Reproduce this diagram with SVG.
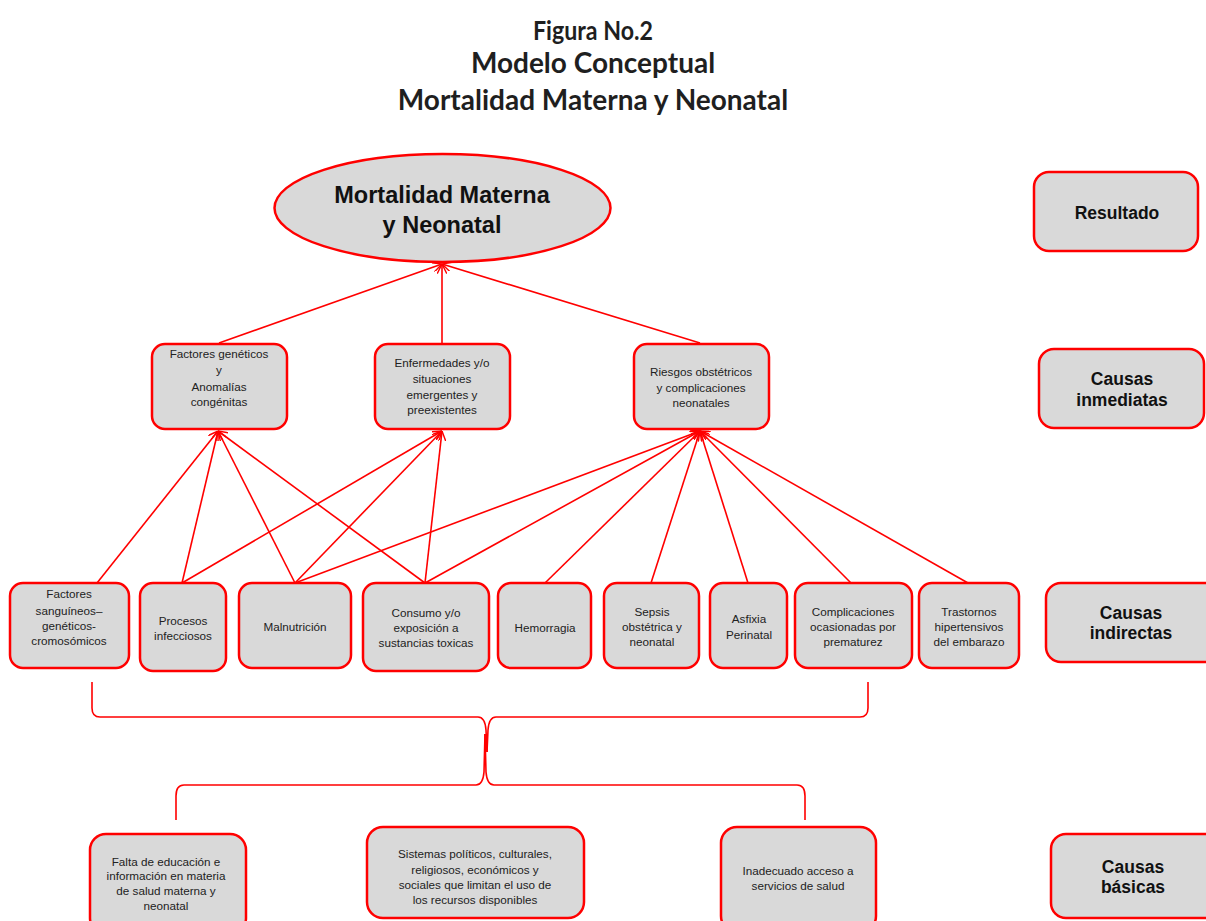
<svg xmlns="http://www.w3.org/2000/svg" width="1206" height="921" viewBox="0 0 1206 921">
<style>
.title{font-family:Lato,"Open Sans",sans-serif;font-weight:bold;font-size:28px;fill:#1f1f1f;text-anchor:middle}
.box{fill:#d9d9d9;stroke:#ff0000;stroke-width:2.5}
.t{font-family:"Liberation Sans",Arial,sans-serif;font-size:11.7px;fill:#222;text-anchor:middle}
.lab{font-family:"Liberation Sans",Arial,sans-serif;font-size:17.5px;font-weight:bold;fill:#111;text-anchor:middle}
.big{font-family:"Liberation Sans",Arial,sans-serif;font-size:23.5px;font-weight:bold;fill:#111;text-anchor:middle}
.c{stroke:#ff0000;stroke-width:1.6;fill:none}
</style>
<defs>
<marker id="ah" viewBox="0 0 10 10" refX="10" refY="5" markerWidth="6" markerHeight="6" orient="auto" markerUnits="strokeWidth">
<path d="M0,0 L10,5 L0,10" fill="none" stroke="#ff0000" stroke-width="1.5"/>
</marker>
</defs>
<rect width="1206" height="921" fill="#ffffff"/>
<g id="title">
<text class="title" x="593" y="40" style="font-size:26.5px" textLength="120" lengthAdjust="spacingAndGlyphs">Figura No.2</text>
<text class="title" x="593" y="73">Modelo Conceptual</text>
<text class="title" x="593" y="110">Mortalidad Materna y Neonatal</text>
</g>
<g id="connectors">
<line class="c" x1="219" y1="343" x2="442" y2="264" marker-end="url(#ah)"/>
<line class="c" x1="442" y1="343" x2="442" y2="264" marker-end="url(#ah)"/>
<line class="c" x1="700" y1="343" x2="442" y2="264" marker-end="url(#ah)"/>
<line class="c" x1="97" y1="583" x2="218" y2="431" marker-end="url(#ah)"/>
<line class="c" x1="182" y1="583" x2="218" y2="431" marker-end="url(#ah)"/>
<line class="c" x1="295" y1="583" x2="218" y2="431" marker-end="url(#ah)"/>
<line class="c" x1="425" y1="583" x2="218" y2="431" marker-end="url(#ah)"/>
<line class="c" x1="182" y1="583" x2="442" y2="431" marker-end="url(#ah)"/>
<line class="c" x1="295" y1="583" x2="442" y2="431" marker-end="url(#ah)"/>
<line class="c" x1="425" y1="583" x2="442" y2="431" marker-end="url(#ah)"/>
<line class="c" x1="295" y1="583" x2="700" y2="431" marker-end="url(#ah)"/>
<line class="c" x1="425" y1="583" x2="700" y2="431" marker-end="url(#ah)"/>
<line class="c" x1="545" y1="583" x2="700" y2="431" marker-end="url(#ah)"/>
<line class="c" x1="651" y1="583" x2="700" y2="431" marker-end="url(#ah)"/>
<line class="c" x1="748" y1="583" x2="700" y2="431" marker-end="url(#ah)"/>
<line class="c" x1="851" y1="583" x2="700" y2="431" marker-end="url(#ah)"/>
<line class="c" x1="968" y1="583" x2="700" y2="431" marker-end="url(#ah)"/>
<path class="c" d="M92,682 L92,708 Q92,717 100,717 L478,717 Q485,717 486,730 L487,752"/>
<path class="c" d="M868,682 L868,708 Q868,717 860,717 L496,717 Q489,717 488,730 L487,752"/>
<path class="c" d="M485,734 L484,772 Q483,785 476,785 L184,785 Q176,785 176,796 L176,820"/>
<path class="c" d="M485,734 L486,772 Q487,785 494,785 L797,785 Q805,785 805,796 L805,820"/>
</g>
<g id="resultado-principal">
<ellipse cx="442.5" cy="208" rx="168" ry="54" fill="#d9d9d9" stroke="#ff0000" stroke-width="2.5"/>
<text class="big" x="442" y="203">Mortalidad Materna</text>
<text class="big" x="442" y="233">y Neonatal</text>
</g>
<g id="inm1">
<rect class="box" x="152" y="344" width="135" height="85" rx="13"/>
<text class="t" x="219" y="358">Factores genéticos</text>
<text class="t" x="219" y="374">y</text>
<text class="t" x="219" y="391">Anomalías</text>
<text class="t" x="219" y="406">congénitas</text>
</g>
<g id="inm2">
<rect class="box" x="375" y="344" width="135" height="85" rx="13"/>
<text class="t" x="442" y="367">Enfermedades y/o</text>
<text class="t" x="442" y="383">situaciones</text>
<text class="t" x="442" y="399">emergentes y</text>
<text class="t" x="442" y="414">preexistentes</text>
</g>
<g id="inm3">
<rect class="box" x="634" y="344" width="135" height="85" rx="13"/>
<text class="t" x="701" y="376">Riesgos obstétricos</text>
<text class="t" x="701" y="392">y complicaciones</text>
<text class="t" x="701" y="407">neonatales</text>
</g>
<g id="ind1">
<rect class="box" x="10" y="583" width="119" height="85" rx="13"/>
<text class="t" x="69" y="598">Factores</text>
<text class="t" x="69" y="615">sanguíneos–</text>
<text class="t" x="69" y="630">genéticos-</text>
<text class="t" x="69" y="645">cromosómicos</text>
</g>
<g id="ind2">
<rect class="box" x="140" y="583" width="86" height="88" rx="13"/>
<text class="t" x="183" y="625">Procesos</text>
<text class="t" x="183" y="640">infecciosos</text>
</g>
<g id="ind3">
<rect class="box" x="239" y="583" width="112" height="85" rx="13"/>
<text class="t" x="295" y="631">Malnutrición</text>
</g>
<g id="ind4">
<rect class="box" x="363" y="583" width="126" height="88" rx="13"/>
<text class="t" x="426" y="617">Consumo  y/o</text>
<text class="t" x="426" y="632">exposición a</text>
<text class="t" x="426" y="647">sustancias toxicas</text>
</g>
<g id="ind5">
<rect class="box" x="498" y="583" width="93" height="85" rx="13"/>
<text class="t" x="545" y="632">Hemorragia</text>
</g>
<g id="ind6">
<rect class="box" x="604" y="583" width="95" height="85" rx="13"/>
<text class="t" x="652" y="616">Sepsis</text>
<text class="t" x="652" y="631">obstétrica y</text>
<text class="t" x="652" y="646">neonatal</text>
</g>
<g id="ind7">
<rect class="box" x="710" y="583" width="77" height="85" rx="13"/>
<text class="t" x="749" y="623">Asfixia</text>
<text class="t" x="749" y="639">Perinatal</text>
</g>
<g id="ind8">
<rect class="box" x="795" y="583" width="117" height="85" rx="13"/>
<text class="t" x="853" y="616">Complicaciones</text>
<text class="t" x="853" y="631">ocasionadas por</text>
<text class="t" x="853" y="646">prematurez</text>
</g>
<g id="ind9">
<rect class="box" x="919" y="583" width="100" height="85" rx="13"/>
<text class="t" x="969" y="616">Trastornos</text>
<text class="t" x="969" y="631">hipertensivos</text>
<text class="t" x="969" y="646">del embarazo</text>
</g>
<g id="bas1">
<rect class="box" x="90" y="834" width="156" height="100" rx="16"/>
<text class="t" x="166" y="866">Falta de educación e</text>
<text class="t" x="166" y="880">información en materia</text>
<text class="t" x="166" y="895">de salud materna  y</text>
<text class="t" x="166" y="910">neonatal</text>
</g>
<g id="bas2">
<rect class="box" x="367" y="827" width="217" height="91" rx="16"/>
<text class="t" x="475" y="858">Sistemas políticos, culturales,</text>
<text class="t" x="475" y="874">religiosos, económicos y</text>
<text class="t" x="475" y="889">sociales que limitan el uso de</text>
<text class="t" x="475" y="904">los recursos disponibles</text>
</g>
<g id="bas3">
<rect class="box" x="721" y="827" width="155" height="105" rx="16"/>
<text class="t" x="798" y="875">Inadecuado acceso a</text>
<text class="t" x="798" y="890">servicios de salud</text>
</g>
<g id="lab-resultado">
<rect class="box" x="1034" y="172" width="164" height="79" rx="15"/>
<text class="lab" x="1117" y="219">Resultado</text>
</g>
<g id="lab-inmediatas">
<rect class="box" x="1039" y="349" width="165" height="79" rx="15"/>
<text class="lab" x="1122" y="385">Causas</text>
<text class="lab" x="1122" y="406">inmediatas</text>
</g>
<g id="lab-indirectas">
<rect class="box" x="1046" y="583" width="175" height="79" rx="15"/>
<text class="lab" x="1131" y="619">Causas</text>
<text class="lab" x="1131" y="639">indirectas</text>
</g>
<g id="lab-basicas">
<rect class="box" x="1051" y="834" width="170" height="84" rx="15"/>
<text class="lab" x="1133" y="873">Causas</text>
<text class="lab" x="1133" y="893">básicas</text>
</g>
</svg>
